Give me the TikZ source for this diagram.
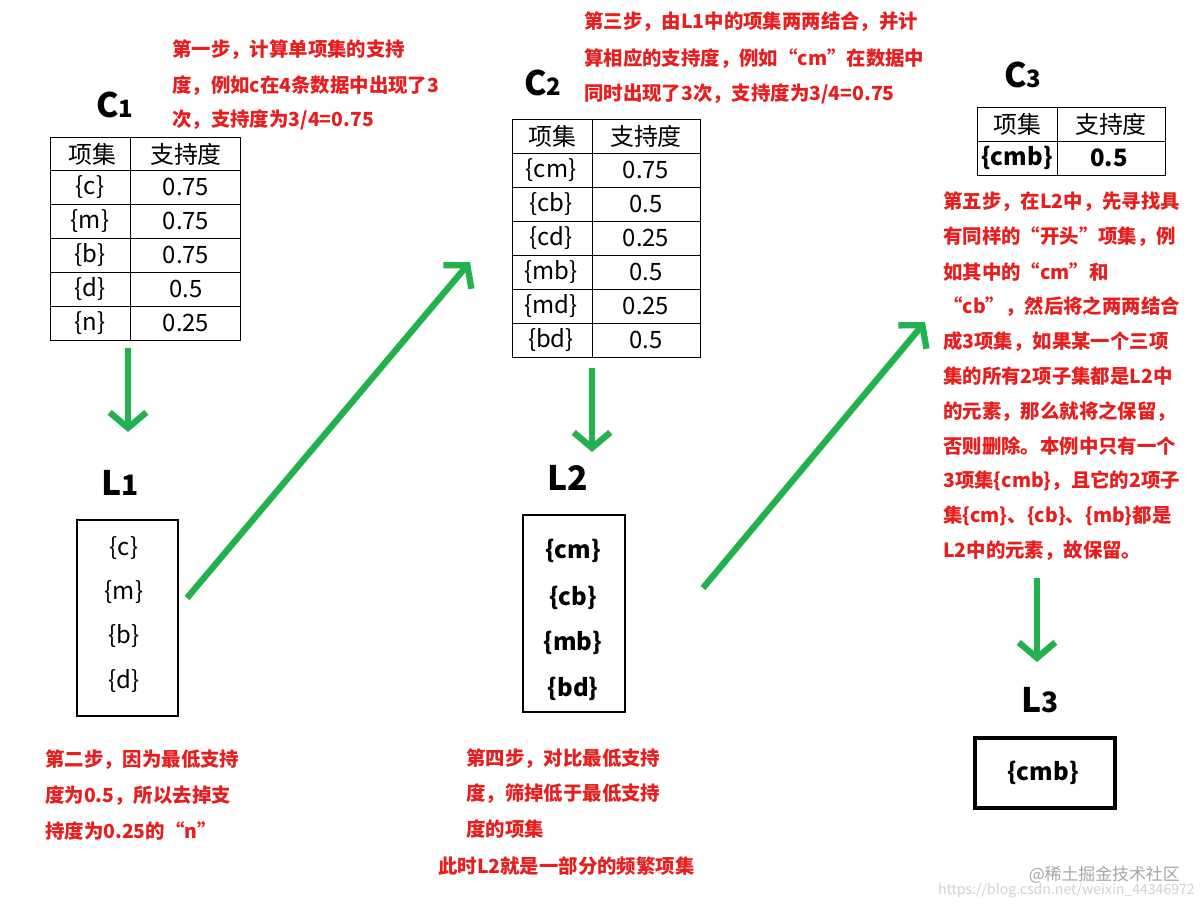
\documentclass[tikz,border=0pt]{standalone}
\usepackage{fontspec}
\setmainfont{Noto Sans CJK SC}
\usetikzlibrary{arrows.meta}
\definecolor{rd}{RGB}{230,30,30}
\definecolor{gr}{RGB}{34,177,76}
\tikzset{
  note/.style={anchor=west,text=rd,font=\fontsize{13.8}{15}\selectfont\bfseries,inner sep=0},
  cell/.style={font=\fontsize{17}{19}\selectfont,inner sep=0},
  bcell/.style={font=\fontsize{17}{19}\selectfont\bfseries,inner sep=0},
  ttl/.style={font=\fontsize{24}{26}\selectfont\bfseries,inner sep=0},
  garrow/.style={draw=gr,line width=4.5pt,-{Straight Barb[length=11pt,width=26pt,line width=4.5pt]}},
  grid/.style={draw=black,line width=0.6pt},
}
\newcommand{\ttlC}[1]{C{\fontsize{17}{19}\selectfont #1}}
\begin{document}
\begin{tikzpicture}[x=0.025cm,y=-0.025cm]
\useasboundingbox[fill=white] (0,0) rectangle (1203,909);
% C1
\node[ttl] (c1t) at (115,105) {\ttlC{1}};
\draw[grid] (50,137) rectangle (240,340);
\foreach \y in {170,204,238,272,306} \draw[grid] (50,\y) -- (240,\y);
\draw[grid] (130,137) -- (130,340);
\node[cell] (c1h1) at (92,154) {项集};
\node[cell] (c1h2) at (186,154) {支持度};
\foreach \a/\b/\y in {{\{c\}}/0.75/187,{\{m\}}/0.75/221,{\{b\}}/0.75/255,{\{d\}}/0.5/289,{\{n\}}/0.25/323}{
  \node[cell] at (90,\y) {\a}; \node[cell] at (186,\y) {\b};}
\coordinate (a1s) at (128,348); \coordinate (a1e) at (128,432);
\draw[garrow] (a1s) -- (a1e);
% L1
\node[ttl] (l1t) at (120,483) {L{\fontsize{20}{22}\selectfont 1}};
\draw[line width=1.5pt] (77,520) rectangle (178,716);
\foreach \t/\y in {c/548,m/592,b/636,d/681} \node[cell] at (124,\y) {\{\t\}};
\coordinate (a2s) at (187,598); \coordinate (a2e) at (470,262);
\draw[garrow] (a2s) -- (a2e);
% C2
\node[ttl] (c2t) at (543,83) {\ttlC{2}};
\draw[grid] (512,119) rectangle (700,357);
\foreach \y in {153,187,221,255,289,323} \draw[grid] (512,\y) -- (700,\y);
\draw[grid] (592,119) -- (592,357);
\node[cell] at (552,136) {项集};
\node[cell] at (646,136) {支持度};
\foreach \a/\b/\y in {cm/0.75/170,cb/0.5/204,cd/0.25/238,mb/0.5/272,md/0.25/306,bd/0.5/340}{
  \node[cell] at (551,\y) {\{\a\}}; \node[cell] at (646,\y) {\b};}
\coordinate (a3s) at (592,368); \coordinate (a3e) at (592,452);
\draw[garrow] (a3s) -- (a3e);
% L2
\node[ttl] (l2t) at (568,478) {L{\fontsize{24}{26}\selectfont 2}};
\draw[line width=1.5pt] (523,515) rectangle (625,712);
\foreach \t/\y in {cm/551,cb/598,mb/643,bd/689} \node[bcell] at (573,\y) {\{\t\}};
\coordinate (a4s) at (703,588); \coordinate (a4e) at (925,322);
\draw[garrow] (a4s) -- (a4e);
% C3
\node[ttl] (c3t) at (1023,75) {\ttlC{3}};
\draw[grid] (977,107) rectangle (1165,175);
\draw[grid] (977,141) -- (1165,141);
\draw[grid] (1057,107) -- (1057,175);
\node[cell] at (1017,124) {项集};
\node[cell] at (1111,124) {支持度};
\node[bcell] at (1017,158) {\{cmb\}};
\node[bcell] at (1109,158) {0.5};
\coordinate (a5s) at (1037,578); \coordinate (a5e) at (1037,662);
\draw[garrow] (a5s) -- (a5e);
% L3
\node[ttl] (l3t) at (1040,700) {L{\fontsize{20}{22}\selectfont 3}};
\draw[line width=2.2pt] (975,738) rectangle (1115,808);
\node[bcell] (l3i) at (1043,773) {\{cmb\}};
% notes
\node[note] at (172,50) {第一步，计算单项集的支持};
\node[note] at (172,86) {度，例如c在4条数据中出现了3};
\node[note] at (172,120) {次，支持度为3/4=0.75};
\node[note] at (584,22) {第三步，由L1中的项集两两结合，并计};
\node[note] at (584,59) {算相应的支持度，例如“cm”在数据中};
\node[note] at (584,94) {同时出现了3次，支持度为3/4=0.75};
\foreach \t [count=\i from 0] in {第五步，在L2中，先寻找具,有同样的“开头”项集，例,如其中的“cm”和,“cb”，然后将之两两结合,成3项集，如果某一个三项,集的所有2项子集都是L2中,的元素，那么就将之保留，,否则删除。本例中只有一个,3项集\{cmb\}，且它的2项子,集\{cm\}、\{cb\}、\{mb\}都是,L2中的元素，故保留。}
  \node[note] at (943,{202+34.85*\i}) {\t};
\node[note] at (45,760) {第二步，因为最低支持};
\node[note] at (45,796) {度为0.5，所以去掉支};
\node[note] at (45,831) {持度为0.25的“n”};
\node[note] at (466,759) {第四步，对比最低支持};
\node[note] at (466,794) {度，筛掉低于最低支持};
\node[note] at (466,829) {度的项集};
\node[note] at (438,866) {此时L2就是一部分的频繁项集};
\node[anchor=east,text=gray!70,font=\fontsize{12}{14}\selectfont,inner sep=0] at (1180,875) {@稀土掘金技术社区};
\node[anchor=east,text=gray!35,font=\fontsize{10}{12}\selectfont,inner sep=0] at (1195,891) {https://blog.csdn.net/weixin\_44346972};
\end{tikzpicture}
\end{document}
